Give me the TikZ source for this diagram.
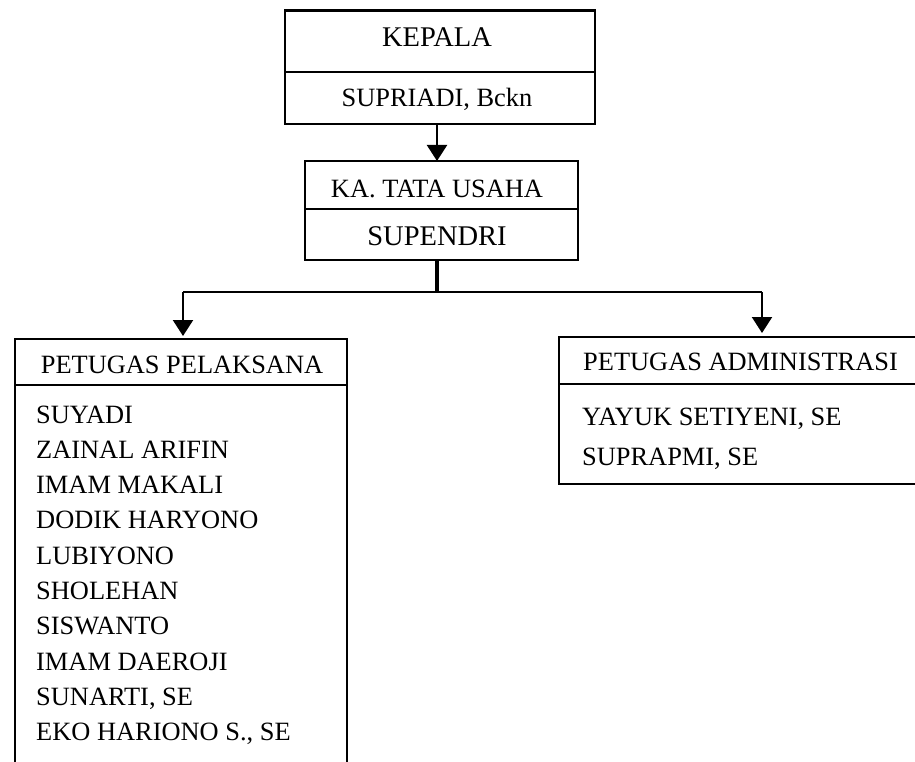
\documentclass[tikz,border=0pt]{standalone}
\usepackage{fontspec}
\setmainfont{Liberation Serif}
\usetikzlibrary{arrows.meta}
\begin{document}
\begin{tikzpicture}[x=1pt,y=-1pt,
  frame/.style={draw, line width=2.4pt, rectangle, inner sep=0pt, outer sep=0pt},
  big/.style={font=\fontsize{28.5}{34}\selectfont, inner sep=0pt, anchor=base},
  txt/.style={font=\fontsize{26.4}{32}\selectfont, inner sep=0pt, anchor=base},
  lst/.style={font=\fontsize{26.4}{32}\selectfont, inner sep=0pt, anchor=base west},
  divider/.style={line width=2.4pt},
  conn/.style={line width=2.2pt, -{Triangle[width=20pt,length=16pt]}},
  bus/.style={line width=1.4pt},
  trunkline/.style={line width=4.8pt}
]
\useasboundingbox (0,0) rectangle (915,762);
\fill[white] (0,0) rectangle (915,762);
\clip (0,0) rectangle (915,762);

% KEPALA box
\node[frame, minimum width=310pt, minimum height=113.5pt] (kepala) at (440,67.25) {};
\draw[divider] (kepala.west |- 0,72) -- (kepala.east |- 0,72);
\node[big] (kepT) at (437,47) {KEPALA};
\node[txt] (kepN) at (437,107) {SUPRIADI, Bckn};

% KA. TATA USAHA box
\node[frame, minimum width=273pt, minimum height=99pt] (ka) at (441.5,210.5) {};
\draw[divider] (ka.west |- 0,209) -- (ka.east |- 0,209);
\node[txt] (kaT) at (437,197) {KA. TATA USAHA};
\node[big] (kaN) at (437,245) {SUPENDRI};

% PETUGAS PELAKSANA box (open at bottom)
\node[frame, minimum width=332pt, minimum height=451pt] (left) at (181,564.5) {};
\draw[divider] (left.west |- 0,385) -- (left.east |- 0,385);
\node[txt] (leftT) at (182,373) {PETUGAS PELAKSANA};
\foreach \n [count=\i] in {SUYADI, ZAINAL ARIFIN, IMAM MAKALI, DODIK HARYONO, LUBIYONO, SHOLEHAN, SISWANTO, IMAM DAEROJI, {SUNARTI, SE}, {EKO HARIONO S., SE}}
  \node[lst] (p\i) at (36,{423+35.3*(\i-1)}) {\n};

% PETUGAS ADMINISTRASI box (right side beyond page)
\node[frame, minimum width=376pt, minimum height=147pt] (right) at (747,410.5) {};
\draw[divider] (right.west |- 0,384) -- (right.east |- 0,384);
\node[txt, anchor=base west] (rightT) at (583,370) {PETUGAS ADMINISTRASI};
\node[lst] (r1) at (582,425) {YAYUK SETIYENI, SE};
\node[lst] (r2) at (582,465) {SUPRAPMI, SE};

% connectors
\coordinate (trunk) at (437,292);
\coordinate (lft) at (183,292);
\coordinate (rgt) at (762,292);
\draw[conn] (kepala.south -| trunk) -- (ka.north -| trunk);
\draw[trunkline] (ka.south -| trunk) -- (trunk);
\draw[bus] (lft) -- (rgt);
\draw[conn, shorten >=3pt] (lft) -- (lft |- left.north);
\draw[conn, shorten >=4pt] (rgt) -- (rgt |- right.north);
\end{tikzpicture}
\end{document}
